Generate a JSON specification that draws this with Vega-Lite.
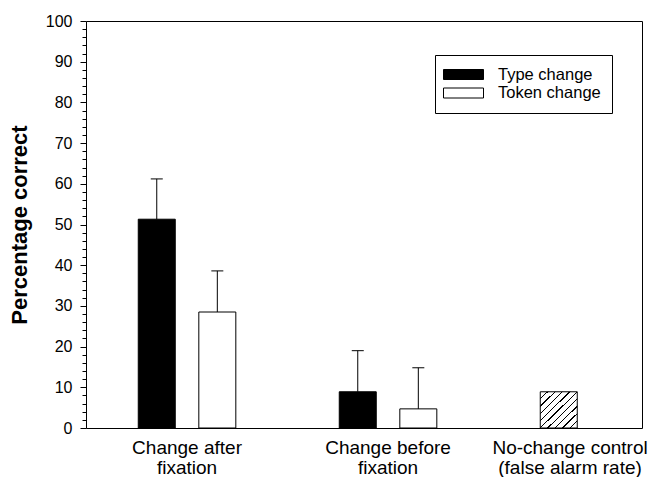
{
  "$schema": "https://vega.github.io/schema/vega-lite/v6.json",
  "width": 556,
  "height": 407,
  "autosize": {"type": "none"},
  "padding": {"left": 86, "top": 21, "right": 13, "bottom": 49},
  "background": "white",
  "config": {
    "font": "Liberation Sans",
    "view": {"stroke": "black", "strokeWidth": 1},
    "legend": {
      "orient": "none",
      "legendX": 349,
      "legendY": 34,
      "strokeColor": "black",
      "fillColor": "white",
      "padding": 11,
      "symbolType": "M-2.5,-0.625H2.5V0.625H-2.5Z",
      "symbolSize": 256,
      "symbolStrokeColor": "black",
      "symbolStrokeWidth": 1,
      "symbolOpacity": 1,
      "symbolOffset": 9,
      "labelOffset": 26,
      "labelFontSize": 16.5,
      "labelColor": "black",
      "labelFont": "Liberation Sans",
      "rowPadding": 1.5
    }
  },
  "data": {
    "values": [
      {"condition": "Change after fixation", "series": "Type change", "pct": 51.3, "upper": 61.2},
      {"condition": "Change after fixation", "series": "Token change", "pct": 28.5, "upper": 38.6},
      {"condition": "Change before fixation", "series": "Type change", "pct": 8.9, "upper": 19.0},
      {"condition": "Change before fixation", "series": "Token change", "pct": 4.7, "upper": 14.8},
      {"condition": "No-change control (false alarm rate)", "series": "False alarm", "pct": 8.9, "upper": null}
    ]
  },
  "encoding": {
    "x": {
      "field": "condition",
      "type": "nominal",
      "sort": null,
      "scale": {"paddingInner": 0.473, "paddingOuter": 0.1196, "align": 1},
      "axis": {
        "title": null,
        "ticks": false,
        "domain": false,
        "labelAngle": 0,
        "labelFontSize": 19,
        "labelColor": "black",
        "labelPadding": 10,
        "labelLineHeight": 20,
        "labelBaseline": "top",
        "labelOverlap": false,
        "labelBound": false,
        "labelFlush": false,
        "labelLimit": 400,
        "labelOffset": {"condition": {"test": "datum.value === 'No-change control (false alarm rate)'", "value": -19}, "value": 0},
        "labelExpr": "datum.value == 'Change after fixation' ? ['Change after','fixation'] : datum.value == 'Change before fixation' ? ['Change before','fixation'] : ['No-change control','(false alarm rate)']"
      }
    },
    "y": {
      "field": "pct",
      "type": "quantitative",
      "scale": {"domain": [0, 100], "nice": false},
      "axis": {
        "title": "Percentage correct",
        "titleFontSize": 22,
        "titleFontWeight": "bold",
        "titleColor": "black",
        "titlePadding": 14,
        "grid": false,
        "domain": false,
        "values": [0,2,4,6,8,10,12,14,16,18,20,22,24,26,28,30,32,34,36,38,40,42,44,46,48,50,52,54,56,58,60,62,64,66,68,70,72,74,76,78,80,82,84,86,88,90,92,94,96,98,100],
        "labelExpr": "datum.value % 10 === 0 ? datum.label : ''",
        "tickSize": {"condition": {"test": "datum.value % 10 === 0", "value": 6}, "value": 4},
        "tickColor": "black",
        "labelColor": "black",
        "labelFontSize": 16,
        "labelPadding": 8,
        "labelOverlap": false,
        "labelBound": false,
        "labelFlush": false
      }
    }
  },
  "layer": [
    {
      "transform": [{"filter": "datum.series !== 'False alarm'"}],
      "mark": {"type": "bar", "stroke": "black", "strokeWidth": 1},
      "encoding": {
        "xOffset": {"field": "series", "type": "nominal", "scale": {"domain": ["Type change", "Token change"], "paddingInner": 0.389, "paddingOuter": 0.069}},
        "fill": {"field": "series", "type": "nominal", "scale": {"domain": ["Type change", "Token change"], "range": ["black", "white"]}, "legend": {"title": null}}
      }
    },
    {
      "transform": [{"filter": "datum.series === 'False alarm'"}],
      "mark": {
        "type": "bar",
        "stroke": "black",
        "strokeWidth": 1,
        "fill": {
          "gradient": "linear",
          "x1": 0, "y1": 0, "x2": 1, "y2": 1,
          "stops": [
            {"offset": 0, "color": "white"},
            {"offset": 0.09, "color": "white"}, {"offset": 0.09, "color": "black"}, {"offset": 0.108, "color": "black"}, {"offset": 0.108, "color": "white"},
            {"offset": 0.19, "color": "white"}, {"offset": 0.19, "color": "black"}, {"offset": 0.208, "color": "black"}, {"offset": 0.208, "color": "white"},
            {"offset": 0.29, "color": "white"}, {"offset": 0.29, "color": "black"}, {"offset": 0.308, "color": "black"}, {"offset": 0.308, "color": "white"},
            {"offset": 0.39, "color": "white"}, {"offset": 0.39, "color": "black"}, {"offset": 0.408, "color": "black"}, {"offset": 0.408, "color": "white"},
            {"offset": 0.49, "color": "white"}, {"offset": 0.49, "color": "black"}, {"offset": 0.508, "color": "black"}, {"offset": 0.508, "color": "white"},
            {"offset": 0.59, "color": "white"}, {"offset": 0.59, "color": "black"}, {"offset": 0.608, "color": "black"}, {"offset": 0.608, "color": "white"},
            {"offset": 0.69, "color": "white"}, {"offset": 0.69, "color": "black"}, {"offset": 0.708, "color": "black"}, {"offset": 0.708, "color": "white"},
            {"offset": 0.79, "color": "white"}, {"offset": 0.79, "color": "black"}, {"offset": 0.808, "color": "black"}, {"offset": 0.808, "color": "white"},
            {"offset": 0.89, "color": "white"}, {"offset": 0.89, "color": "black"}, {"offset": 0.908, "color": "black"}, {"offset": 0.908, "color": "white"},
            {"offset": 1, "color": "white"}
          ]
        }
      },
      "encoding": {
        "xOffset": {"datum": "Type change", "type": "nominal", "scale": {"domain": ["Type change", "Token change"], "paddingInner": 0.389, "paddingOuter": 0.069}}
      }
    },
    {
      "transform": [{"filter": "isValid(datum.upper)"}],
      "mark": {"type": "rule", "color": "black", "strokeWidth": 1},
      "encoding": {
        "xOffset": {"field": "series", "type": "nominal", "scale": {"domain": ["Type change", "Token change"], "paddingInner": 0.389, "paddingOuter": 0.069}},
        "y2": {"field": "upper"}
      }
    },
    {
      "transform": [{"filter": "isValid(datum.upper)"}],
      "mark": {"type": "tick", "orient": "horizontal", "color": "black", "size": 12, "thickness": 1, "opacity": 1},
      "encoding": {
        "xOffset": {"field": "series", "type": "nominal", "scale": {"domain": ["Type change", "Token change"], "paddingInner": 0.389, "paddingOuter": 0.069}},
        "y": {"field": "upper", "type": "quantitative"}
      }
    }
  ]
}
